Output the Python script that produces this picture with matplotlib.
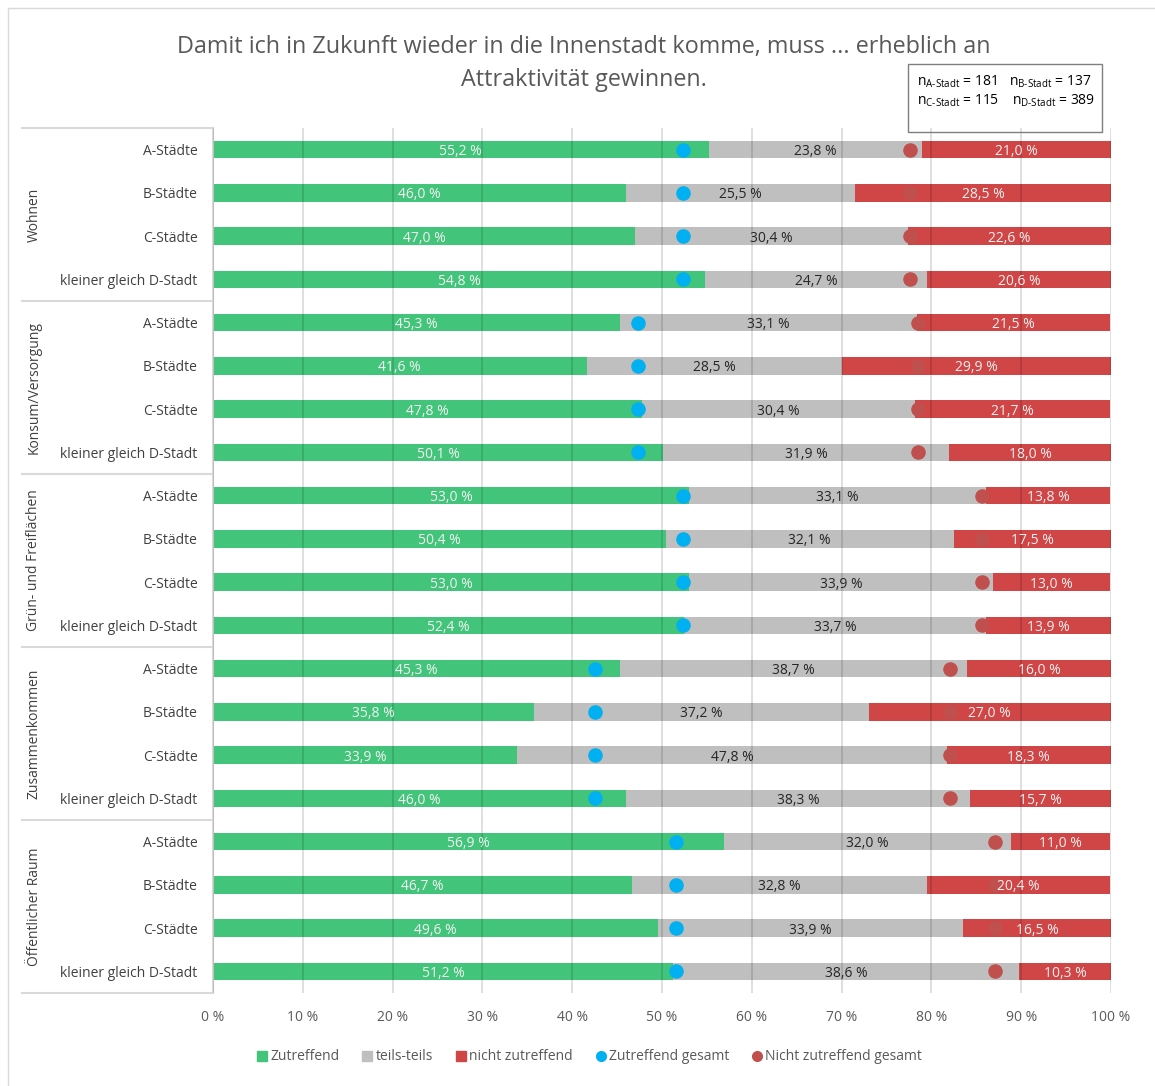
import numpy as np
import matplotlib.pyplot as plt
from matplotlib.lines import Line2D
from matplotlib.patches import Rectangle

plt.rcParams['font.family'] = ['Open Sans', 'DejaVu Sans']
plt.rcParams['mathtext.fontset'] = 'custom'
plt.rcParams['mathtext.rm'] = 'Open Sans'

# Daten
groups = ['Wohnen', 'Konsum/Versorgung', 'Grün- und Freiflächen', 'Zusammenkommen', 'Öffentlicher Raum']
cities = ['A-Städte', 'B-Städte', 'C-Städte', 'kleiner gleich D-Stadt']

zutreffend = [55.2, 46.0, 47.0, 54.8,
              45.3, 41.6, 47.8, 50.1,
              53.0, 50.4, 53.0, 52.4,
              45.3, 35.8, 33.9, 46.0,
              56.9, 46.7, 49.6, 51.2]
teils = [23.8, 25.5, 30.4, 24.7,
         33.1, 28.5, 30.4, 31.9,
         33.1, 32.1, 33.9, 33.7,
         38.7, 37.2, 47.8, 38.3,
         32.0, 32.8, 33.9, 38.6]
nicht = [21.0, 28.5, 22.6, 20.6,
         21.5, 29.9, 21.7, 18.0,
         13.8, 17.5, 13.0, 13.9,
         16.0, 27.0, 18.3, 15.7,
         11.0, 20.4, 16.5, 10.3]

# Gesamtwerte je Themenfeld (Punkte)
zutreffend_gesamt = [52.3, 47.3, 52.3, 42.5, 51.6]
nicht_gesamt = [22.4, 21.5, 14.4, 17.9, 12.9]

GREEN = '#42C47A'
GREY = '#BFBFBF'
RED = '#D04545'
BLUE = '#00B0F0'
DOTRED = '#C0504D'
TXT = '#595959'

fig = plt.figure(figsize=(11.55, 10.86), dpi=100)
ax = fig.add_axes([213 / 1155, 1 - 993 / 1086, 898 / 1155, 865 / 1086])

n = len(zutreffend)
y = np.arange(n)
z = np.array(zutreffend)
t = np.array(teils)
r = np.array(nicht)
h = 0.4

ax.barh(y, z, height=h, color=GREEN, zorder=2)
ax.barh(y, t, left=z, height=h, color=GREY, zorder=2)
ax.barh(y, r, left=z + t, height=h, color=RED, zorder=2)


def fmt(v):
    return f'{v:.1f} %'.replace('.', ',')


# Werte in den Balken
for i in range(n):
    ax.text(z[i] / 2, y[i], fmt(z[i]), ha='center', va='center_baseline',
            fontsize=10, color='#F2F2F2', zorder=5)
    ax.text(z[i] + t[i] / 2, y[i], fmt(t[i]), ha='center', va='center_baseline',
            fontsize=10, color='#262626', zorder=5)
    ax.text(z[i] + t[i] + r[i] / 2, y[i], fmt(r[i]), ha='center', va='center_baseline',
            fontsize=10, color='#F2F2F2', zorder=5)

# Gesamtpunkte
for g in range(len(groups)):
    rows = y[g * 4:(g + 1) * 4]
    ax.scatter([zutreffend_gesamt[g]] * 4, rows, s=110, color=BLUE, zorder=4, linewidths=0)
    ax.scatter([100 - nicht_gesamt[g]] * 4, rows, s=110, color=DOTRED, zorder=4, linewidths=0)

# Gitternetz
for xv in range(0, 101, 10):
    ax.axvline(xv, color='black', alpha=0.15, lw=1.2, zorder=3)

ax.set_xlim(0, 100)
ax.set_ylim(n - 0.5, -0.5)
ax.set_xticks(range(0, 101, 10))
ax.set_xticklabels([f'{v} %' for v in range(0, 101, 10)], fontsize=10, color=TXT)
ax.set_yticks(y)
ax.set_yticklabels(cities * len(groups), fontsize=10, color='#404040')
ax.tick_params(axis='y', length=0, pad=11)
ax.tick_params(axis='x', length=0, pad=12)
for s in ['top', 'right', 'bottom']:
    ax.spines[s].set_visible(False)
ax.spines['left'].set_color('#D9D9D9')
ax.spines['left'].set_linewidth(1.5)

# Gruppen-Trennlinien und Gruppennamen
x0 = (22 - 213) / 898
for k in range(len(groups) + 1):
    yy = k * 4 - 0.5
    ax.plot([x0, 0], [yy, yy], transform=ax.get_yaxis_transform(), color='#D9D9D9',
            lw=1.5, clip_on=False)
for g, name in enumerate(groups):
    ax.text((34 - 213) / 898, g * 4 + 1.5, name, transform=ax.get_yaxis_transform(),
            rotation=90, ha='center', va='center', fontsize=10, color='#404040')

# Titel (zwei Zeilen)
fig.text(584 / 1155, 1 - 47 / 1086,
         'Damit ich in Zukunft wieder in die Innenstadt komme, muss ... erheblich an',
         ha='center', va='center', fontsize=16.8, color=TXT)
fig.text(584 / 1155, 1 - 80 / 1086, 'Attraktivität gewinnen.',
         ha='center', va='center', fontsize=16.8, color=TXT)

# n-Box
fig.patches.append(Rectangle((908 / 1155, 1 - 132 / 1086), 194 / 1155, 68 / 1086,
                             transform=fig.transFigure, fill=False, edgecolor='#7F7F7F', lw=1))
n_txt = [('A', 181), ('B', 137), ('C', 115), ('D', 389)]
pos = [(917, 82), (1009, 82), (917, 101), (1012, 101)]
for (k, v), (px, py) in zip(n_txt, pos):
    fig.text(px / 1155, 1 - py / 1086, r'n$_{\mathrm{' + k + '‐Stadt}}$ = ' + str(v),
             ha='left', va='center', fontsize=10, color='black')

# Legende
handles = [
    Line2D([], [], marker='s', ls='', color=GREEN, markersize=7),
    Line2D([], [], marker='s', ls='', color=GREY, markersize=7),
    Line2D([], [], marker='s', ls='', color=RED, markersize=7),
    Line2D([], [], marker='o', ls='', color=BLUE, markersize=7),
    Line2D([], [], marker='o', ls='', color=DOTRED, markersize=7),
]
labels = ['Zutreffend', 'teils-teils', 'nicht zutreffend', 'Zutreffend gesamt', 'Nicht zutreffend gesamt']
leg = fig.legend(handles, labels, loc='center', bbox_to_anchor=(588 / 1155, 1 - 1057 / 1086),
                 ncol=5, frameon=False, fontsize=10, handletextpad=0.0, columnspacing=1.4,
                 handlelength=1.2)
for tx in leg.get_texts():
    tx.set_color(TXT)

# Rahmen
fig.patches.append(Rectangle((8 / 1155, -0.01), 1.0, 1 - 8 / 1086 + 0.01,
                             transform=fig.transFigure, fill=False, edgecolor='#D9D9D9', lw=1))

plt.savefig('out.png', dpi=100)
plt.close()
